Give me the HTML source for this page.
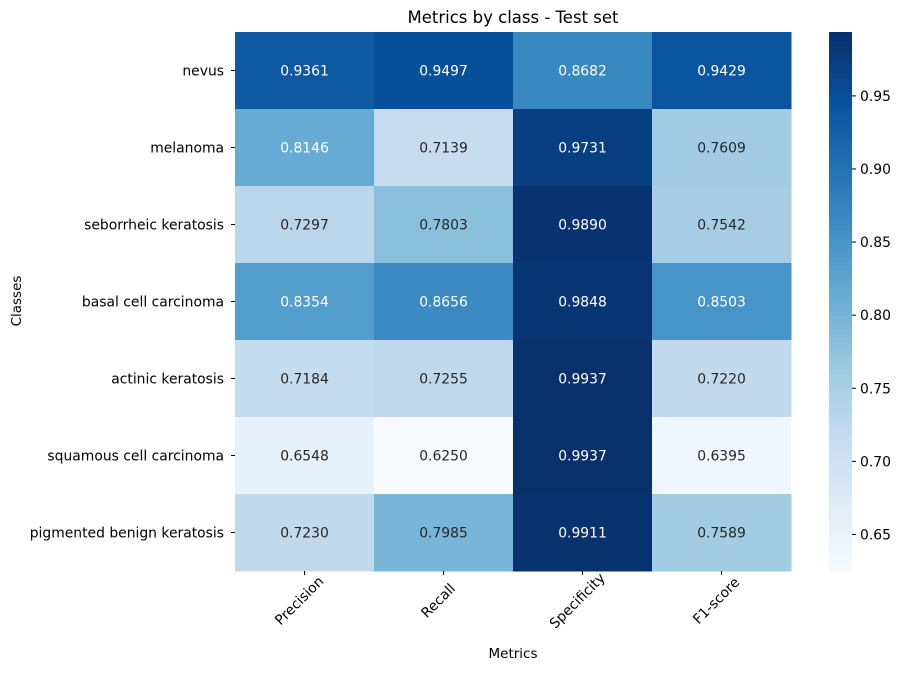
<!DOCTYPE html>
<html><head><meta charset="utf-8"><style>
body{margin:0;background:#fff;font-family:"Liberation Sans","DejaVu Sans",sans-serif}
svg text{font-family:"DejaVu Sans","Liberation Sans",sans-serif}
</style></head><body>
<svg id="chart" width="903" height="671" xmlns="http://www.w3.org/2000/svg">
<text x="513" y="23" text-anchor="middle" font-size="16.5">Metrics by class - Test set</text>
<text x="513" y="658" text-anchor="middle" font-size="13.5">Metrics</text>
<text transform="translate(21,301) rotate(-90)" text-anchor="middle" font-size="13.5">Classes</text>
<g id="cells"></g><g id="xt"></g><g id="yt"></g><g id="cb"></g>
</svg>
<script>
const classes=["nevus","melanoma","seborrheic keratosis","basal cell carcinoma","actinic keratosis","squamous cell carcinoma","pigmented benign keratosis"];
const metrics=["Precision","Recall","Specificity","F1-score"];
const precision=[0.9361,0.8146,0.7297,0.8354,0.7184,0.6548,0.7230];
const recall=[0.9497,0.7139,0.7803,0.8656,0.7255,0.6250,0.7985];
const specificity=[0.8682,0.9731,0.9890,0.9848,0.9937,0.9937,0.9911];
const f1=[0.9429,0.7609,0.7542,0.8503,0.7220,0.6395,0.7589];
const cbTicks=[0.65,0.70,0.75,0.80,0.85,0.90,0.95];
const cols=[precision,recall,specificity,f1];
const NS="http://www.w3.org/2000/svg";
const X0=235,X1=791,Y0=32,Y1=571,FS=13.9;
const all=cols.flat();const vmin=Math.min(...all),vmax=Math.max(...all);
const stops=["#f7fbff","#deebf7","#c6dbef","#9ecae1","#6baed6","#4292c6","#2171b5","#08519c","#08306b"].map(h=>[1,3,5].map(i=>parseInt(h.substr(i,2),16)));
function cmap(v){let t=Math.max(0,Math.min(1,(v-vmin)/(vmax-vmin)))*8;let i=Math.min(7,Math.floor(t)),f=t-i;return stops[i].map((c,k)=>Math.round(c+(stops[i+1][k]-c)*f));}
function lum(c){const r=c.map(x=>{x/=255;return x<=0.03928?x/12.92:Math.pow((x+0.055)/1.055,2.4)});return 0.2126*r[0]+0.7152*r[1]+0.0722*r[2];}
const cw=(X1-X0)/metrics.length,ch=(Y1-Y0)/classes.length;
function mk(tag,attrs,parent){const e=document.createElementNS(NS,tag);for(const k in attrs)e.setAttribute(k,attrs[k]);parent.appendChild(e);return e;}
const gC=document.getElementById('cells');
cols.forEach((arr,j)=>arr.forEach((v,i)=>{
 const c=cmap(v);
 const r=mk('rect',{x:X0+j*cw,y:Y0+i*ch,width:cw+0.5,height:ch+0.5,fill:`rgb(${c})`},gC);
 
 
 const t=mk('text',{x:X0+(j+0.5)*cw,y:Y0+(i+0.5)*ch+5,'text-anchor':'middle','font-size':FS,fill:lum(c)>0.408?'#262626':'#fff'},gC);
 t.textContent=v.toFixed(4);
 
 
}));
const gX=document.getElementById('xt');
metrics.forEach((m,j)=>{const x=X0+(j+0.5)*cw;
 mk('line',{x1:x,x2:x,y1:Y1,y2:Y1+4,stroke:'#000'},gX);
 const t=mk('text',{transform:`translate(${x-2},${Y1+33}) rotate(-45)`,'text-anchor':'middle','font-size':FS},gX);
 t.textContent=m;
 
 });
const gY=document.getElementById('yt');
classes.forEach((c,i)=>{const y=Y0+(i+0.5)*ch;
 mk('line',{x1:X0-4,x2:X0,y1:y,y2:y,stroke:'#000'},gY);
 const t=mk('text',{x:X0-11,y:y+5,'text-anchor':'end','font-size':FS},gY);
 t.textContent=c;
 
 });
const gB=document.getElementById('cb');
const CX=829,CW=23,N=120;
for(let k=0;k<N;k++){const v=vmin+(vmax-vmin)*k/N;const c=cmap(v+(vmax-vmin)/(2*N));
 const r=mk('rect',{x:CX,y:Y1-(k+1)*(Y1-Y0)/N,width:CW,height:(Y1-Y0)/N+0.6,fill:`rgb(${c})`},gB);
 
 }
cbTicks.forEach(v=>{const y=Y1-(v-vmin)/(vmax-vmin)*(Y1-Y0);
 mk('line',{x1:CX+CW,x2:CX+CW+4,y1:y,y2:y,stroke:'#000'},gB);
 const t=mk('text',{x:CX+CW+8,y:y+5,'font-size':FS},gB);
 t.textContent=v.toFixed(2);
 
 });
</script>
</body></html>
